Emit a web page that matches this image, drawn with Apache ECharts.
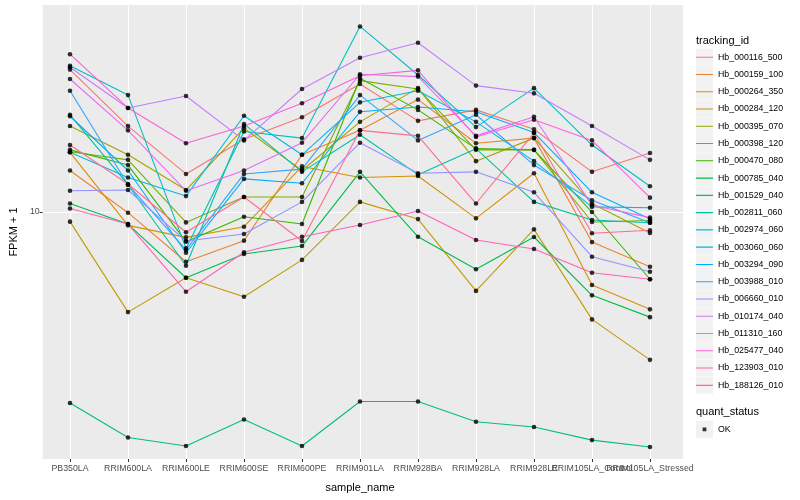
<!DOCTYPE html>
<html><head><meta charset="utf-8">
<script src="https://cdn.jsdelivr.net/npm/echarts@6/dist/echarts.min.js"></script>
<style>html,body{margin:0;padding:0;background:#fff}#c{width:800px;height:500px}</style>
</head><body><div id="c"></div>
<script>
const categories = ['PB350LA','RRIM600LA','RRIM600LE','RRIM600SE','RRIM600PE','RRIM901LA','RRIM928BA','RRIM928LA','RRIM928LE','RRIM105LA_Control','RRIM105LA_Stressed'];

const hb_000116_500 = [22.7, 16.4, 12.45, 15.2, 17.25, 20.9, 16.9, 18.0, 16.1, 12.6, 14.05];
const hb_000159_100 = [12.7, 9.96, 7.51, 8.48, 13.9, 16.0, 19.1, 14.85, 15.3, 8.41, 7.30];
const hb_000264_350 = [14.1, 9.26, 8.64, 9.19, 13.0, 12.2, 12.3, 9.64, 12.5, 6.57, 5.71];
const hb_000284_120 = [9.46, 5.62, 6.85, 6.14, 7.59, 10.6, 9.6, 6.35, 9.05, 5.39, 4.27];
const hb_000395_070 = [16.4, 13.9, 11.35, 16.2, 12.7, 16.8, 20.4, 13.4, 15.3, 10.5, 8.86];
const hb_000398_120 = [14.15, 13.5, 9.42, 10.9, 10.9, 21.3, 20.3, 14.3, 14.3, 9.44, 9.52];
const hb_000470_080 = [14.3, 13.1, 8.43, 9.73, 9.33, 21.6, 18.0, 14.4, 14.3, 10.0, 6.79];
const hb_000785_040 = [10.5, 9.33, 6.85, 7.85, 8.22, 12.6, 8.67, 7.19, 8.66, 6.19, 5.46];
const hb_001529_040 = [3.33, 2.73, 2.60, 3.03, 2.60, 3.36, 3.36, 2.99, 2.90, 2.69, 2.585];
const hb_002811_060 = [17.5, 11.7, 7.34, 16.6, 12.6, 15.6, 12.4, 14.4, 10.6, 9.55, 9.40];
const hb_002974_060 = [23.2, 19.6, 8.11, 15.9, 15.3, 29.1, 22.0, 16.3, 20.4, 14.7, 11.6];
const hb_003060_060 = [14.1, 12.2, 10.96, 17.4, 13.9, 18.8, 20.1, 16.8, 13.4, 10.3, 10.25];
const hb_003294_090 = [17.35, 12.7, 7.91, 12.1, 11.8, 17.8, 18.3, 17.8, 15.8, 11.2, 9.6];
const hb_003988_010 = [20.1, 11.7, 8.04, 12.45, 12.8, 19.6, 15.1, 17.5, 13.1, 10.7, 9.40];
const hb_006660_010 = [11.3, 11.35, 8.46, 8.81, 10.6, 14.9, 12.5, 12.6, 11.2, 7.73, 7.09];
const hb_010174_040 = [23.0, 18.2, 19.5, 15.1, 20.3, 24.3, 26.5, 20.7, 19.8, 16.4, 13.5];
const hb_011310_160 = [21.5, 16.0, 11.3, 12.7, 14.9, 22.1, 21.8, 15.5, 17.3, 10.4, 9.68];
const hb_025477_040 = [24.8, 18.2, 14.85, 16.4, 18.7, 21.9, 22.6, 15.4, 17.0, 15.1, 10.86];
const hb_123903_010 = [10.2, 9.33, 6.32, 7.93, 8.67, 9.28, 10.06, 8.51, 8.08, 7.05, 6.79];
const hb_188126_010 = [14.7, 11.75, 8.90, 10.9, 8.46, 16.0, 15.5, 10.5, 15.75, 8.85, 9.0];

const trackingIds = ['Hb_000116_500','Hb_000159_100','Hb_000264_350','Hb_000284_120','Hb_000395_070','Hb_000398_120','Hb_000470_080','Hb_000785_040','Hb_001529_040','Hb_002811_060','Hb_002974_060','Hb_003060_060','Hb_003294_090','Hb_003988_010','Hb_006660_010','Hb_010174_040','Hb_011310_160','Hb_025477_040','Hb_123903_010','Hb_188126_010'];
const seriesValues = [hb_000116_500, hb_000159_100, hb_000264_350, hb_000284_120, hb_000395_070, hb_000398_120, hb_000470_080, hb_000785_040, hb_001529_040, hb_002811_060, hb_002974_060, hb_003060_060, hb_003294_090, hb_003988_010, hb_006660_010, hb_010174_040, hb_011310_160, hb_025477_040, hb_123903_010, hb_188126_010];
const quantStatus = ['OK'];
const yTicks = [10];

const colors = ['#F8766D','#EA8331','#D89000','#C09B00','#A3A500','#7CAE00','#39B600','#00BB4E','#00BF7D','#00C1A3','#00BFC4','#00BAE0','#00B0F6','#35A2FF','#9590FF','#C77CFF','#E76BF3','#FA62DB','#FF62BC','#FF6C91'];
const FONT = '"Liberation Sans", Arial, Helvetica, sans-serif';
const Y_MIN = 2.413, Y_MAX = 32.92;

const KEY_LINE = 'path://M0,0L0.01,0L0.01,0.01Z M16.99,16.99L17,16.99L17,17Z M0,7.95L17,7.95L17,9.05L0,9.05Z';
const KEY_DOT = 'path://M0,0L0.01,0L0.01,0.01Z M16.99,16.99L17,16.99L17,17Z M6.6,6.6L10.4,6.6L10.4,10.4L6.6,10.4Z';

const LEG_LEFT = 696, LEG_TOP = 48.7, LEG_STEP = 17.27, OK_TOP = 420.8;

const chart = echarts.init(document.getElementById('c'));

const lineSeries = trackingIds.map((id, k) => ({
  name: id, type: 'line', xAxisIndex: 1, yAxisIndex: 1,
  data: seriesValues[k], showSymbol: false, symbol: 'none',
  color: colors[k],
  lineStyle: { width: 1.1, color: colors[k] },
  emphasis: { disabled: true }, z: 2, silent: true
}));
const okPoints = [];
seriesValues.forEach(vals => vals.forEach((v, i) => okPoints.push([i, v])));
const pointSeries = {
  name: quantStatus[0], type: 'scatter', xAxisIndex: 1, yAxisIndex: 1,
  data: okPoints, symbol: 'circle', symbolSize: 4.6,
  color: '#000', itemStyle: { color: '#000' }, z: 5,
  emphasis: { disabled: true }, silent: true
};

const keyBoxes = trackingIds.map((_, k) => ({
  type: 'rect', shape: { x: LEG_LEFT, y: LEG_TOP + k * LEG_STEP, width: 17, height: 17 },
  style: { fill: '#F2F2F2' }, silent: true, z: 0
}));
keyBoxes.push({ type: 'rect', shape: { x: LEG_LEFT, y: OK_TOP, width: 17, height: 17 }, style: { fill: '#F2F2F2' }, silent: true, z: 0 });

const legText = { fontSize: 8.8, color: '#000', fontFamily: FONT };

chart.setOption({
  animation: false,
  backgroundColor: '#fff',
  title: [
    { text: 'tracking_id', left: LEG_LEFT, top: 35, padding: 0, textStyle: { fontSize: 11, fontWeight: 'normal', color: '#000', fontFamily: FONT } },
    { text: 'quant_status', left: LEG_LEFT, top: 406.5, padding: 0, textStyle: { fontSize: 11, fontWeight: 'normal', color: '#000', fontFamily: FONT } }
  ],
  graphic: keyBoxes,
  legend: [
    { data: trackingIds, orient: 'vertical', left: LEG_LEFT, top: LEG_TOP, itemWidth: 17, itemHeight: 17, itemGap: LEG_STEP - 17,
      padding: 0, icon: KEY_LINE, itemStyle: { borderWidth: 0 }, textStyle: legText, selectedMode: false, z: 4 },
    { data: quantStatus, orient: 'vertical', left: LEG_LEFT, top: OK_TOP, itemWidth: 17, itemHeight: 17,
      padding: 0, icon: KEY_DOT, itemStyle: { borderWidth: 0 }, textStyle: legText, selectedMode: false, z: 4 }
  ],
  grid: [
    { left: 36, right: 117, top: 5, bottom: 41, show: true, backgroundColor: '#EBEBEB', borderWidth: 0 },
    { left: 70, right: 150, top: 5, bottom: 41, show: false }
  ],
  xAxis: [
    { gridIndex: 0, type: 'value', show: false, min: 0, max: 1 },
    { gridIndex: 1, type: 'category', data: categories, boundaryGap: false,
      axisLine: { show: false },
      axisTick: { show: true, interval: 0, length: 3, lineStyle: { color: '#333333', width: 1 } },
      axisLabel: { interval: 0, margin: 5, fontSize: 8.8, color: '#4D4D4D', fontFamily: FONT },
      splitLine: { show: true, interval: 0, lineStyle: { color: '#FFFFFF', width: 1.1 } },
      name: 'sample_name', nameLocation: 'middle', nameGap: 23,
      nameTextStyle: { fontSize: 11, color: '#000', fontFamily: FONT } }
  ],
  yAxis: [
    { gridIndex: 0, type: 'log', logBase: 10, min: Y_MIN, max: Y_MAX,
      axisLine: { show: false },
      axisTick: { show: true, length: 3, customValues: yTicks, lineStyle: { color: '#333333', width: 1 } },
      axisLabel: { customValues: yTicks, margin: 3, fontSize: 8.8, color: '#4D4D4D', fontFamily: FONT, showMinLabel: false, showMaxLabel: false },
      splitLine: { show: true, lineStyle: { color: '#FFFFFF', width: 1.1 } },
      name: 'FPKM + 1', nameLocation: 'middle', nameGap: 18,
      nameTextStyle: { fontSize: 11, color: '#000', fontFamily: FONT } },
    { gridIndex: 1, type: 'log', logBase: 10, min: Y_MIN, max: Y_MAX, show: false, splitLine: { show: false } }
  ],
  series: lineSeries.concat([pointSeries])
});
</script>
</body></html>
